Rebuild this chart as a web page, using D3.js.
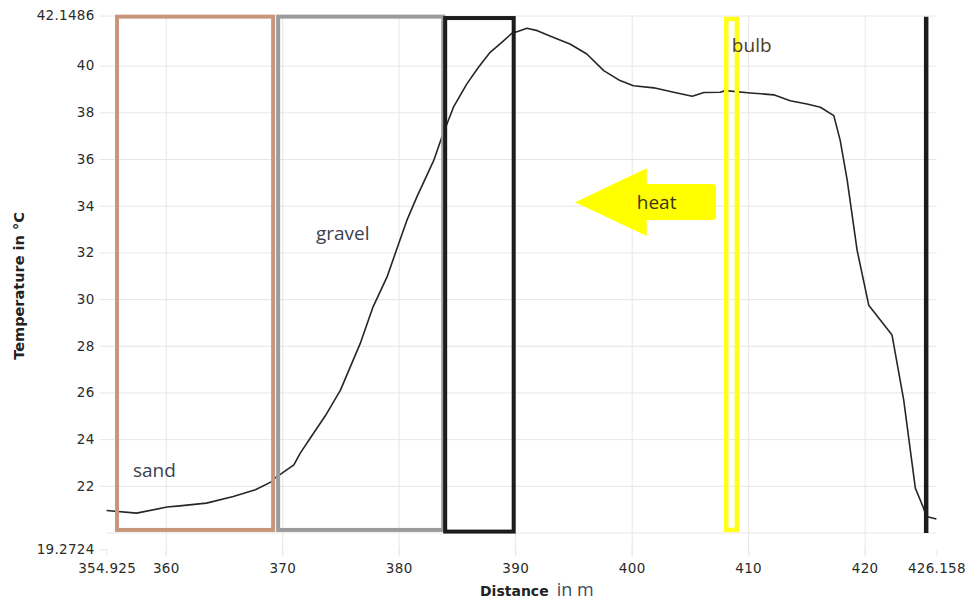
<!DOCTYPE html>
<html>
<head>
<meta charset="utf-8">
<script src="https://cdn.jsdelivr.net/npm/d3@7"></script>
<style>
  html, body { margin: 0; padding: 0; background: #fff; }
  svg { display: block; }
</style>
</head>
<body>
<svg id="chart" width="970" height="603"></svg>
<script>
// ---------- DATA ----------
const distance = [354.925, 357.5, 360.1, 361.2, 363.5, 365.8, 367.7, 369.1, 369.25, 371.0,
  371.55, 372.4, 373.7, 375.0, 376.7, 377.8, 379.0, 380.1, 380.7, 381.55, 383.0,
  383.7, 384.7, 385.85, 386.85, 387.85, 388.85, 389.7, 390.4, 391.0, 391.9,
  393.3, 394.7, 396.15, 397.6, 399.0, 400.15, 401.9, 403.6, 405.2, 406.2,
  407.6, 408.05, 410.2, 412.2, 413.6, 415.05, 416.2, 417.35, 417.9, 418.5,
  419.35, 420.35, 422.35, 423.35, 424.35, 425.05, 425.3, 426.158];
const temperature = [20.94, 20.83, 21.09, 21.14, 21.26, 21.54, 21.83, 22.18, 22.29, 22.9,
  23.4, 24.04, 25.0, 26.1, 28.1, 29.67, 30.95, 32.52, 33.37, 34.37, 35.93,
  36.93, 38.22, 39.22, 39.93, 40.57, 41.0, 41.38, 41.5, 41.6, 41.5,
  41.21, 40.93, 40.5, 39.79, 39.36, 39.14, 39.05, 38.86, 38.69, 38.85,
  38.86, 38.93, 38.83, 38.75, 38.5, 38.36, 38.22, 37.86, 36.8, 35.1,
  32.1, 29.74, 28.46, 25.68, 21.9, 21.05, 20.69, 20.58];

const xDomain = [354.925, 426.158];
const yDomain = [19.2724, 42.1486];
const xTickValues = [354.925, 360, 370, 380, 390, 400, 410, 420, 426.158];
const xGridValues = [360, 370, 380, 390, 400, 410, 420];
const yTickValues = [19.2724, 22, 24, 26, 28, 30, 32, 34, 36, 38, 40, 42.1486];
const yGridValues = [20, 22, 24, 26, 28, 30, 32, 34, 36, 38, 40, 42.1486];

// Zone boxes (data units)
const zoneNames  = ["sand", "gravel", "core", "bulb"];
const zoneStart  = [355.82, 369.65, 383.99, 408.12];
const zoneEnd    = [369.22, 383.82, 389.87, 409.03];
const zoneBottom = [20.11, 20.11, 20.04, 20.11];
const zoneTop    = [42.10, 42.10, 42.04, 42.00];
const zoneColors = ["#c8977b", "#9b9b9b", "#1c1c1c", "#ffff1a"];

// Vertical end marker (data units)
const markerX = [425.28];
const markerY = [19.98, 42.10];

// Text labels (data units)
const labelTexts = ["sand", "gravel", "bulb", "heat"];
const labelX = [357.19, 372.9, 408.6, 400.44];
const labelY = [22.38, 32.53, 40.59, 33.85];

// Heat arrow (data units): tip, head base, tail; centre, head top, head bottom, body top, body bottom
const arrowX = [395.14, 401.29, 407.24];
const arrowY = [34.15, 35.6, 32.7, 34.93, 33.39];

// ---------- LAYOUT ----------
const svg = d3.select("#chart");
const W = 970, H = 603;
const pLeft = 106.6, pRight = 936.4, pTop = 15.5, pBottom = 549.5;

svg.append("rect").attr("width", W).attr("height", H).attr("fill", "#fff");

const x = d3.scaleLinear().domain(xDomain).range([pLeft, pRight]);
const y = d3.scaleLinear().domain(yDomain).range([pBottom, pTop]);

const gridColor = "#e6e6e6";
const tickFont = "'DejaVu Sans', Verdana, sans-serif";

// Horizontal grid lines
const gy = svg.append("g").attr("transform", `translate(${pLeft},0)`)
  .call(d3.axisLeft(y).tickValues(yGridValues).tickSizeInner(-(pRight - pLeft)).tickSizeOuter(0).tickFormat(""));
gy.select(".domain").remove();
gy.selectAll("line").attr("stroke", gridColor).attr("stroke-width", 1);

// Vertical grid lines (extend a little below the plot as ticks)
const gx = svg.append("g").attr("transform", `translate(0,${pBottom + 6})`)
  .call(d3.axisTop(x).tickValues(xGridValues).tickSizeInner(pBottom + 6 - pTop).tickSizeOuter(0).tickFormat(""));
gx.select(".domain").remove();
gx.selectAll("line").attr("stroke", gridColor).attr("stroke-width", 1);

// Y axis ticks + labels
const ya = svg.append("g").attr("transform", `translate(${pLeft},0)`)
  .call(d3.axisLeft(y).tickValues(yTickValues).tickSizeInner(7).tickSizeOuter(0).tickPadding(5)
    .tickFormat(d => String(d)));
ya.select(".domain").remove();
ya.selectAll("line").attr("stroke", gridColor);
ya.selectAll("text").attr("font-family", tickFont).attr("font-size", 13.5).attr("fill", "#2b2b2b")
  .attr("letter-spacing", "0.3px");

// X axis ticks + labels
const xa = svg.append("g").attr("transform", `translate(0,${pBottom})`)
  .call(d3.axisBottom(x).tickValues(xTickValues).tickSizeInner(6).tickSizeOuter(0).tickPadding(8)
    .tickFormat(d => String(d)));
xa.select(".domain").remove();
xa.selectAll("line").attr("stroke", gridColor);
xa.selectAll("text").attr("font-family", tickFont).attr("font-size", 13.5).attr("fill", "#2b2b2b")
  .attr("letter-spacing", "0.3px");

// Axis titles
svg.append("text")
  .attr("transform", "translate(24,286) rotate(-90)")
  .attr("text-anchor", "middle")
  .attr("font-family", tickFont).attr("font-weight", "bold").attr("font-size", 14.5)
  .attr("fill", "#222")
  .text("Temperature in °C");

const xt = svg.append("text").attr("x", 480).attr("y", 596);
xt.append("tspan").attr("font-family", tickFont).attr("font-weight", "bold").attr("font-size", 14)
  .attr("fill", "#222").text("Distance");
xt.append("tspan").attr("dx", 8).attr("font-family", "'Open Sans', sans-serif").attr("font-size", 18)
  .attr("fill", "#3d4a66").text("in m");

// Temperature line
const pts = distance.map((d, i) => [d, temperature[i]]);
svg.append("path")
  .datum(pts)
  .attr("fill", "none")
  .attr("stroke", "#262626")
  .attr("stroke-width", 1.6)
  .attr("stroke-linejoin", "round")
  .attr("d", d3.line().x(d => x(d[0])).y(d => y(d[1])));

// Zone boxes
svg.append("g").selectAll("rect")
  .data(zoneNames.map((n, i) => i))
  .join("rect")
  .attr("x", i => x(zoneStart[i]))
  .attr("y", i => y(zoneTop[i]))
  .attr("width", i => x(zoneEnd[i]) - x(zoneStart[i]))
  .attr("height", i => y(zoneBottom[i]) - y(zoneTop[i]))
  .attr("fill", "none")
  .attr("stroke", i => zoneColors[i])
  .attr("stroke-width", i => i === 3 ? 4.5 : 4);

// End marker line
svg.append("line")
  .attr("x1", x(markerX[0])).attr("x2", x(markerX[0]))
  .attr("y1", y(markerY[0])).attr("y2", y(markerY[1]))
  .attr("stroke", "#1c1c1c").attr("stroke-width", 4.5);

// Heat arrow
const [tipX, baseX, tailX] = arrowX.map(x);
const [cY, headTop, headBot, bodyTop, bodyBot] = arrowY.map(y);
const r = 4;
const arrowPath = d3.path();
arrowPath.moveTo(tipX, cY);
arrowPath.lineTo(baseX, headTop);
arrowPath.lineTo(baseX, bodyTop);
arrowPath.lineTo(tailX - r, bodyTop);
arrowPath.quadraticCurveTo(tailX, bodyTop, tailX, bodyTop + r);
arrowPath.lineTo(tailX, bodyBot - r);
arrowPath.quadraticCurveTo(tailX, bodyBot, tailX - r, bodyBot);
arrowPath.lineTo(baseX, bodyBot);
arrowPath.lineTo(baseX, headBot);
arrowPath.closePath();
svg.append("path").attr("d", arrowPath.toString()).attr("fill", "#ffff00");

// Text labels
svg.append("g").selectAll("text")
  .data(labelTexts.map((t, i) => i))
  .join("text")
  .attr("x", i => x(labelX[i]))
  .attr("y", i => y(labelY[i]))
  .attr("font-family", "'Open Sans', sans-serif")
  .attr("font-size", 19)
  .attr("fill", i => labelTexts[i] === "bulb" ? "#4f3b26" : (labelTexts[i] === "heat" ? "#3e3418" : "#3b4150"))
  .text(i => labelTexts[i]);
</script>
</body>
</html>
